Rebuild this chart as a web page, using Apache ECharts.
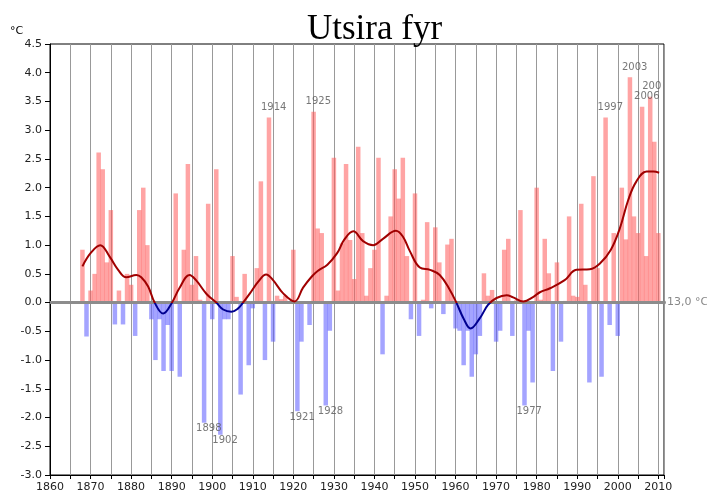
<!DOCTYPE html>
<html>
<head>
<meta charset="utf-8">
<title>Utsira fyr</title>
<script src="https://cdn.jsdelivr.net/npm/echarts@6/dist/echarts.min.js"></script>
<style>
  html, body { margin: 0; padding: 0; background: #fff; }
  #chart { width: 707px; height: 494px; }
</style>
</head>
<body>
<div id="chart"></div>
<script>
// yearly deviation from 13,0 °C, first bar is 1868
const firstYear = 1868
const deviations = [
  0.92, -0.59, 0.21, 0.50, 2.61, 2.32, 0.70, 1.61, -0.38, 0.21,   // 1868-1877
  -0.38, 0.50, 0.31, -0.58, 1.61, 2.00, 1.00, -0.29, -1.00, -0.29, // 1878-1887
  -1.19, -0.39, -1.19, 1.90, -1.29, 0.92, 2.41, 0.31, 0.81, 0.05,  // 1888-1897
  -2.09, 1.72, -0.29, 2.32, -2.30, -0.29, -0.29, 0.81, 0.10, -1.60, // 1898-1907
  0.50, -1.09, -0.10, 0.60, 2.11, -1.00, 3.22, -0.68, 0.12, 0.06,  // 1908-1917
  0.12, 0.02, 0.92, -1.89, -0.68, 0.02, -0.39, 3.32, 1.29, 1.21,   // 1918-1927
  -1.79, -0.49, 2.52, 0.21, 1.03, 2.41, 1.09, 0.41, 2.71, 1.21,    // 1928-1937
  0.12, 0.60, 0.92, 2.52, -0.90, 0.12, 1.50, 2.32, 1.81, 2.52,     // 1938-1947
  0.81, -0.29, 1.90, -0.58, 0.05, 1.40, -0.10, 1.31, 0.70, -0.20,  // 1948-1957
  1.01, 1.11, -0.45, -0.49, -1.09, -0.49, -1.29, -0.90, -0.58, 0.51, // 1958-1967
  0.12, 0.22, -0.68, -0.49, 0.92, 1.11, -0.58, 0.04, 1.61, -1.79,  // 1968-1977
  -0.49, -1.39, 2.00, 0.05, 1.11, 0.51, -1.19, 0.70, -0.68, 0.03,  // 1978-1987
  1.50, 0.12, 0.10, 1.72, 0.31, -1.39, 2.20, 0.60, -1.29, 3.22,    // 1988-1997
  -0.39, 1.21, -0.58, 2.00, 1.10, 3.92, 1.50, 1.21, 3.41, 0.81,    // 1998-2007
  3.58, 2.80, 1.21                                                 // 2008-2010
]

// smoothed curve
const curveYears = [
  1868, 1870, 1872.4, 1874.7, 1876.8, 1878.8, 1881.3, 1882.5, 1884.2, 1885.8,
  1887.9, 1890, 1891.9, 1894.4, 1896, 1898.6, 1901, 1902.7, 1904.7, 1906.4,
  1907.6, 1909.3, 1911.3, 1913.3, 1915, 1917.5, 1920.3, 1922.4, 1924.5, 1926,
  1928.4, 1930.8, 1932.6, 1934.8, 1937.2, 1939.7, 1942.1, 1945.3, 1947, 1948.7,
  1951.2, 1953.7, 1956.1, 1958.6, 1960.2, 1962, 1963.7, 1966, 1968, 1970.1,
  1972.6, 1974.2, 1976.7, 1979.2, 1980.8, 1983.3, 1986.9, 1989.8, 1993.1, 1995.6,
  1998.3, 2000.5, 2002.6, 2004.6, 2007.1, 2008.8, 2010.2
]
const curveValues = [
  0.63, 0.86, 1.00, 0.80, 0.57, 0.44, 0.48, 0.44, 0.28, 0.00,
  -0.19, -0.01, 0.25, 0.48, 0.39, 0.15, 0.00, -0.12, -0.16, -0.10,
  0.00, 0.16, 0.36, 0.49, 0.39, 0.16, 0.02, 0.26, 0.45, 0.55,
  0.66, 0.86, 1.10, 1.24, 1.07, 1.00, 1.11, 1.25, 1.15, 0.90,
  0.61, 0.57, 0.48, 0.22, 0.00, -0.28, -0.45, -0.27, -0.04, 0.08,
  0.13, 0.09, 0.02, 0.10, 0.18, 0.25, 0.39, 0.57, 0.58, 0.68,
  0.92, 1.29, 1.79, 2.11, 2.28, 2.28, 2.26
]

// annotated extreme years (the 2008 label is cut off by the frame)
const markedYears = [1898, 1902, 1914, 1921, 1925, 1928, 1977, 1997, 2003, 2006, 2008]
const markedTexts = ['1898', '1902', '1914', '1921', '1925', '1928', '1977', '1997', '2003', '2006', '200']

const yTicks = { min: -3, max: 4.5, step: 0.5 }
const xTicks = { min: 1860, max: 2011.4, step: 5, labelStep: 10 }

const chart = echarts.init(document.getElementById('chart'))

const barData = deviations.map((v, i) => [firstYear + i, v])
const curveData = curveYears.map((y, i) => [y, curveValues[i]])
const markData = markedYears.map((y, i) => {
  const v = deviations[y - firstYear]
  return {
    value: [y, v],
    label: {
      formatter: markedTexts[i],
      position: v >= 0 ? 'top' : 'bottom',
      distance: v >= 0 ? 5 : 1,
    },
  }
})

chart.setOption({
  animation: false,
  title: {
    text: 'Utsira fyr',
    left: 302,
    top: 7,
    textStyle: { fontFamily: 'Liberation Serif', fontSize: 35, fontWeight: 'normal', color: '#000' },
  },
  graphic: [
    {
      type: 'text',
      left: 10,
      top: 26,
      style: { text: '°C', font: '11px "DejaVu Sans"', fill: '#000' },
    },
  ],
  grid: {
    left: 50, right: 43, top: 44, bottom: 19,
    show: true, borderColor: '#000', borderWidth: 1,
  },
  xAxis: {
    type: 'value',
    min: xTicks.min,
    max: xTicks.max,
    interval: xTicks.step,
    axisLine: { onZero: false, lineStyle: { color: '#000' } },
    axisTick: { length: 4, lineStyle: { color: '#000' } },
    axisLabel: {
      margin: 7,
      fontSize: 11,
      fontFamily: 'DejaVu Sans',
      color: '#222',
      formatter: (v) => (v % xTicks.labelStep === 0 ? String(v) : ''),
    },
    splitLine: { show: true, lineStyle: { color: '#999', width: 1 } },
  },
  yAxis: {
    type: 'value',
    min: yTicks.min,
    max: yTicks.max,
    interval: yTicks.step,
    axisLine: { show: true, lineStyle: { color: '#000' } },
    axisTick: { show: true, length: 5, lineStyle: { color: '#000' } },
    axisLabel: {
      margin: 8,
      fontSize: 11,
      fontFamily: 'DejaVu Sans',
      color: '#222',
      formatter: (v) => v.toFixed(1),
    },
    splitLine: { show: false },
  },
  visualMap: {
    show: false,
    type: 'piecewise',
    seriesIndex: 1,
    dimension: 1,
    pieces: [
      { gt: -10, lt: 0, color: '#000090' },
      { gte: 0, lt: 10, color: '#a00000' },
    ],
    outOfRange: { color: '#a00000' },
  },
  series: [
    {
      type: 'bar',
      data: barData,
      barWidth: 4.5,
      itemStyle: {
        color: (p) => (p.value[1] >= 0 ? 'rgba(255,90,90,0.55)' : 'rgba(90,90,255,0.55)'),
      },
      markLine: {
        silent: true,
        symbol: ['none', 'circle'],
        symbolSize: 4,
        lineStyle: { color: '#8c8c8c', width: 3, type: 'solid' },
        label: {
          position: 'end',
          formatter: '13,0 °C',
          color: '#888',
          fontSize: 11,
          fontFamily: 'DejaVu Sans',
          distance: 3,
        },
        data: [{ yAxis: 0 }],
        z: 3,
      },
      z: 2,
    },
    {
      type: 'line',
      data: curveData,
      smooth: 0.4,
      symbol: 'none',
      lineStyle: { width: 2 },
      z: 5,
    },
    {
      type: 'scatter',
      data: markData,
      symbolSize: 0,
      label: {
        show: true,
        align: 'left',
        offset: [-8, 0],
        color: '#555',
        fontSize: 10,
        fontFamily: 'DejaVu Sans',
      },
      z: 6,
    },
  ],
})
</script>
</body>
</html>
